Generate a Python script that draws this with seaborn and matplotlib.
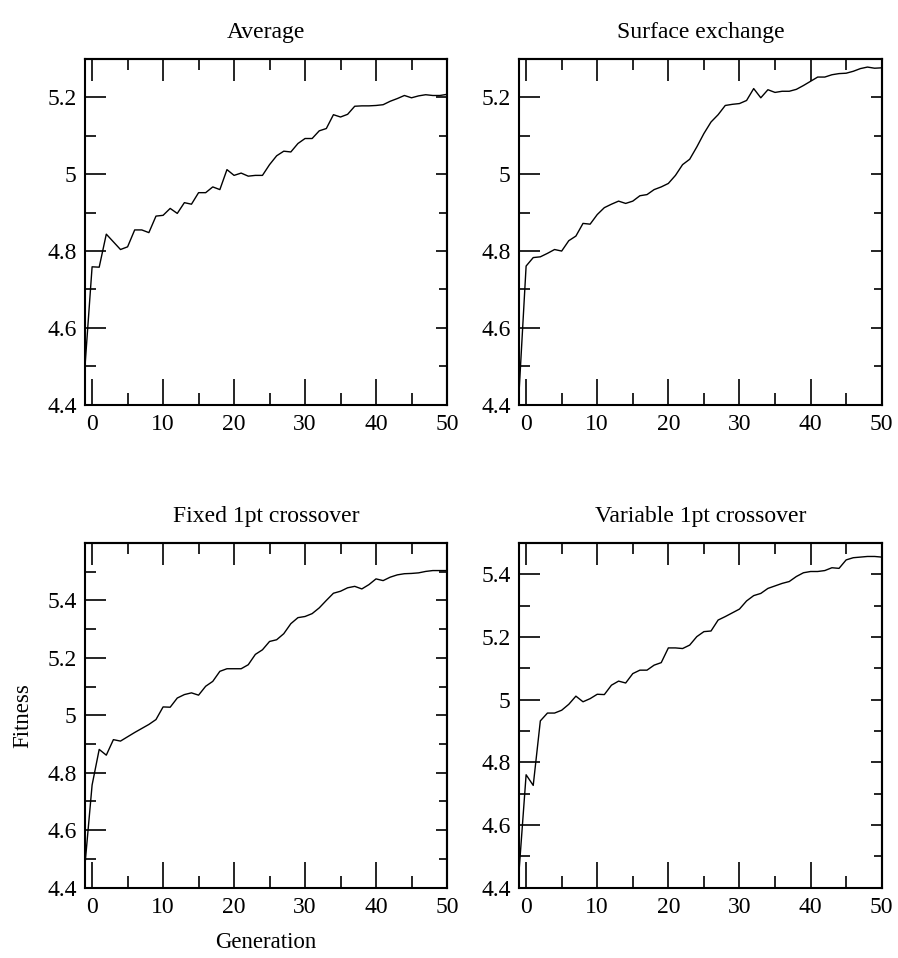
import matplotlib
matplotlib.use("Agg")
import matplotlib.pyplot as plt
from matplotlib.ticker import MultipleLocator, FixedLocator, FuncFormatter
import seaborn as sns
import pandas as pd

generations = list(range(-1, 51))

average = [4.50, 4.759, 4.758, 4.844, 4.824, 4.804, 4.811, 4.855, 4.855, 4.848,
           4.891, 4.893, 4.911, 4.898, 4.926, 4.922, 4.952, 4.952, 4.967, 4.960,
           5.012, 4.997, 5.003, 4.995, 4.997, 4.997, 5.025, 5.048, 5.060, 5.058,
           5.080, 5.093, 5.093, 5.113, 5.119, 5.155, 5.149, 5.156, 5.177, 5.178,
           5.178, 5.179, 5.181, 5.190, 5.197, 5.205, 5.199, 5.204, 5.207, 5.205,
           5.205, 5.208]

surface_exchange = [4.43, 4.761, 4.783, 4.785, 4.794, 4.804, 4.800, 4.827, 4.839, 4.872,
                    4.870, 4.895, 4.913, 4.922, 4.930, 4.924, 4.930, 4.944, 4.947, 4.960,
                    4.967, 4.976, 4.997, 5.025, 5.039, 5.071, 5.106, 5.136, 5.155, 5.179,
                    5.182, 5.184, 5.192, 5.223, 5.199, 5.220, 5.213, 5.216, 5.216, 5.221,
                    5.231, 5.242, 5.253, 5.253, 5.259, 5.262, 5.263, 5.268, 5.275, 5.279,
                    5.276, 5.277]

fixed_1pt = [4.48, 4.757, 4.881, 4.861, 4.915, 4.910, 4.925, 4.940, 4.954, 4.968,
             4.985, 5.029, 5.028, 5.060, 5.072, 5.078, 5.070, 5.101, 5.118, 5.153,
             5.162, 5.162, 5.162, 5.176, 5.212, 5.228, 5.257, 5.263, 5.284, 5.319,
             5.340, 5.344, 5.354, 5.374, 5.400, 5.425, 5.432, 5.444, 5.449, 5.440,
             5.455, 5.475, 5.469, 5.481, 5.489, 5.493, 5.494, 5.496, 5.501, 5.504,
             5.504, 5.504]

variable_1pt = [4.45, 4.760, 4.726, 4.932, 4.957, 4.957, 4.966, 4.985, 5.011, 4.993,
                5.003, 5.017, 5.016, 5.046, 5.059, 5.053, 5.083, 5.094, 5.094, 5.110,
                5.118, 5.165, 5.165, 5.163, 5.174, 5.201, 5.217, 5.219, 5.254, 5.265,
                5.277, 5.289, 5.315, 5.332, 5.339, 5.355, 5.363, 5.371, 5.377, 5.393,
                5.405, 5.409, 5.409, 5.412, 5.421, 5.419, 5.446, 5.453, 5.455, 5.457,
                5.457, 5.455]

titles = ["Average", "Surface exchange", "Fixed 1pt crossover", "Variable 1pt crossover"]
series = [average, surface_exchange, fixed_1pt, variable_1pt]
y_limits = [(4.4, 5.3), (4.4, 5.3), (4.4, 5.6), (4.4, 5.5)]
y_major_ticks = [
    [4.4, 4.6, 4.8, 5.0, 5.2],
    [4.4, 4.6, 4.8, 5.0, 5.2],
    [4.4, 4.6, 4.8, 5.0, 5.2, 5.4],
    [4.4, 4.6, 4.8, 5.0, 5.2, 5.4],
]
x_label = "Generation"
y_label = "Fitness"

sns.set_style("white")
plt.rcParams["font.family"] = ["Liberation Serif", "DejaVu Serif"]

W, H = 898, 958
fig = plt.figure(figsize=(W / 100, H / 100), dpi=100)

boxes = [
    (85, 59, 447, 404.7),
    (519, 59, 881.7, 404.7),
    (85, 543, 447, 887.5),
    (519, 543, 881.7, 887.5),
]

def fmt(v, pos):
    s = f"{v:.1f}"
    if s.endswith(".0"):
        s = s[:-2]
    return s

for i, (l, t, r, b) in enumerate(boxes):
    ax = fig.add_axes([l / W, 1 - b / H, (r - l) / W, (b - t) / H])
    df = pd.DataFrame({"Generation": generations, "Fitness": series[i]})
    sns.lineplot(data=df, x="Generation", y="Fitness", ax=ax, color="black",
                 linewidth=1.0, estimator=None)
    ax.set_xlim(-1, 50)
    ax.set_ylim(*y_limits[i])
    ax.xaxis.set_major_locator(MultipleLocator(10))
    ax.xaxis.set_minor_locator(MultipleLocator(5))
    ax.yaxis.set_major_locator(FixedLocator(y_major_ticks[i]))
    ax.yaxis.set_minor_locator(MultipleLocator(0.1))
    ax.yaxis.set_major_formatter(FuncFormatter(fmt))
    for sp in ax.spines.values():
        sp.set_visible(True)
        sp.set_linewidth(1.5)
        sp.set_color("black")
    ax.tick_params(bottom=True, left=True, top=False, right=False, which="both")
    ax.tick_params(axis="x", which="major", direction="in", length=19, width=1.2,
                   labelsize=17, pad=7, color="black", labelcolor="black")
    ax.tick_params(axis="x", which="minor", direction="in", length=9, width=1.2, color="black")
    ax.tick_params(axis="y", which="major", direction="in", length=15, width=1.2,
                   labelsize=17, pad=6, color="black", labelcolor="black")
    ax.tick_params(axis="y", which="minor", direction="in", length=8, width=1.2, color="black")
    ax.set_title(titles[i], fontsize=17, pad=15, color="black")
    ax.set_xlabel("")
    ax.set_ylabel("")

    top = ax.secondary_xaxis("top")
    top.xaxis.set_major_locator(MultipleLocator(10))
    top.xaxis.set_minor_locator(MultipleLocator(5))
    top.tick_params(which="both", top=True, bottom=False)
    top.tick_params(which="major", direction="in", length=16, width=1.2, labeltop=False, color="black")
    top.tick_params(which="minor", direction="in", length=8, width=1.2, color="black")
    top.spines["top"].set_linewidth(1.5)

    right = ax.secondary_yaxis("right")
    right.yaxis.set_major_locator(FixedLocator(y_major_ticks[i]))
    right.yaxis.set_minor_locator(MultipleLocator(0.1))
    right.tick_params(which="both", right=True, left=False)
    right.tick_params(which="major", direction="in", length=8, width=1.2, labelright=False, color="black")
    right.tick_params(which="minor", direction="in", length=6, width=1.2, color="black")
    right.spines["right"].set_linewidth(1.5)

    if i == 2:
        ax.set_xlabel(x_label, fontsize=16.5, labelpad=10, color="black")
        ax.set_ylabel(y_label, fontsize=16.5, labelpad=10, color="black")

fig.savefig("out.png", dpi=100, facecolor="white")
